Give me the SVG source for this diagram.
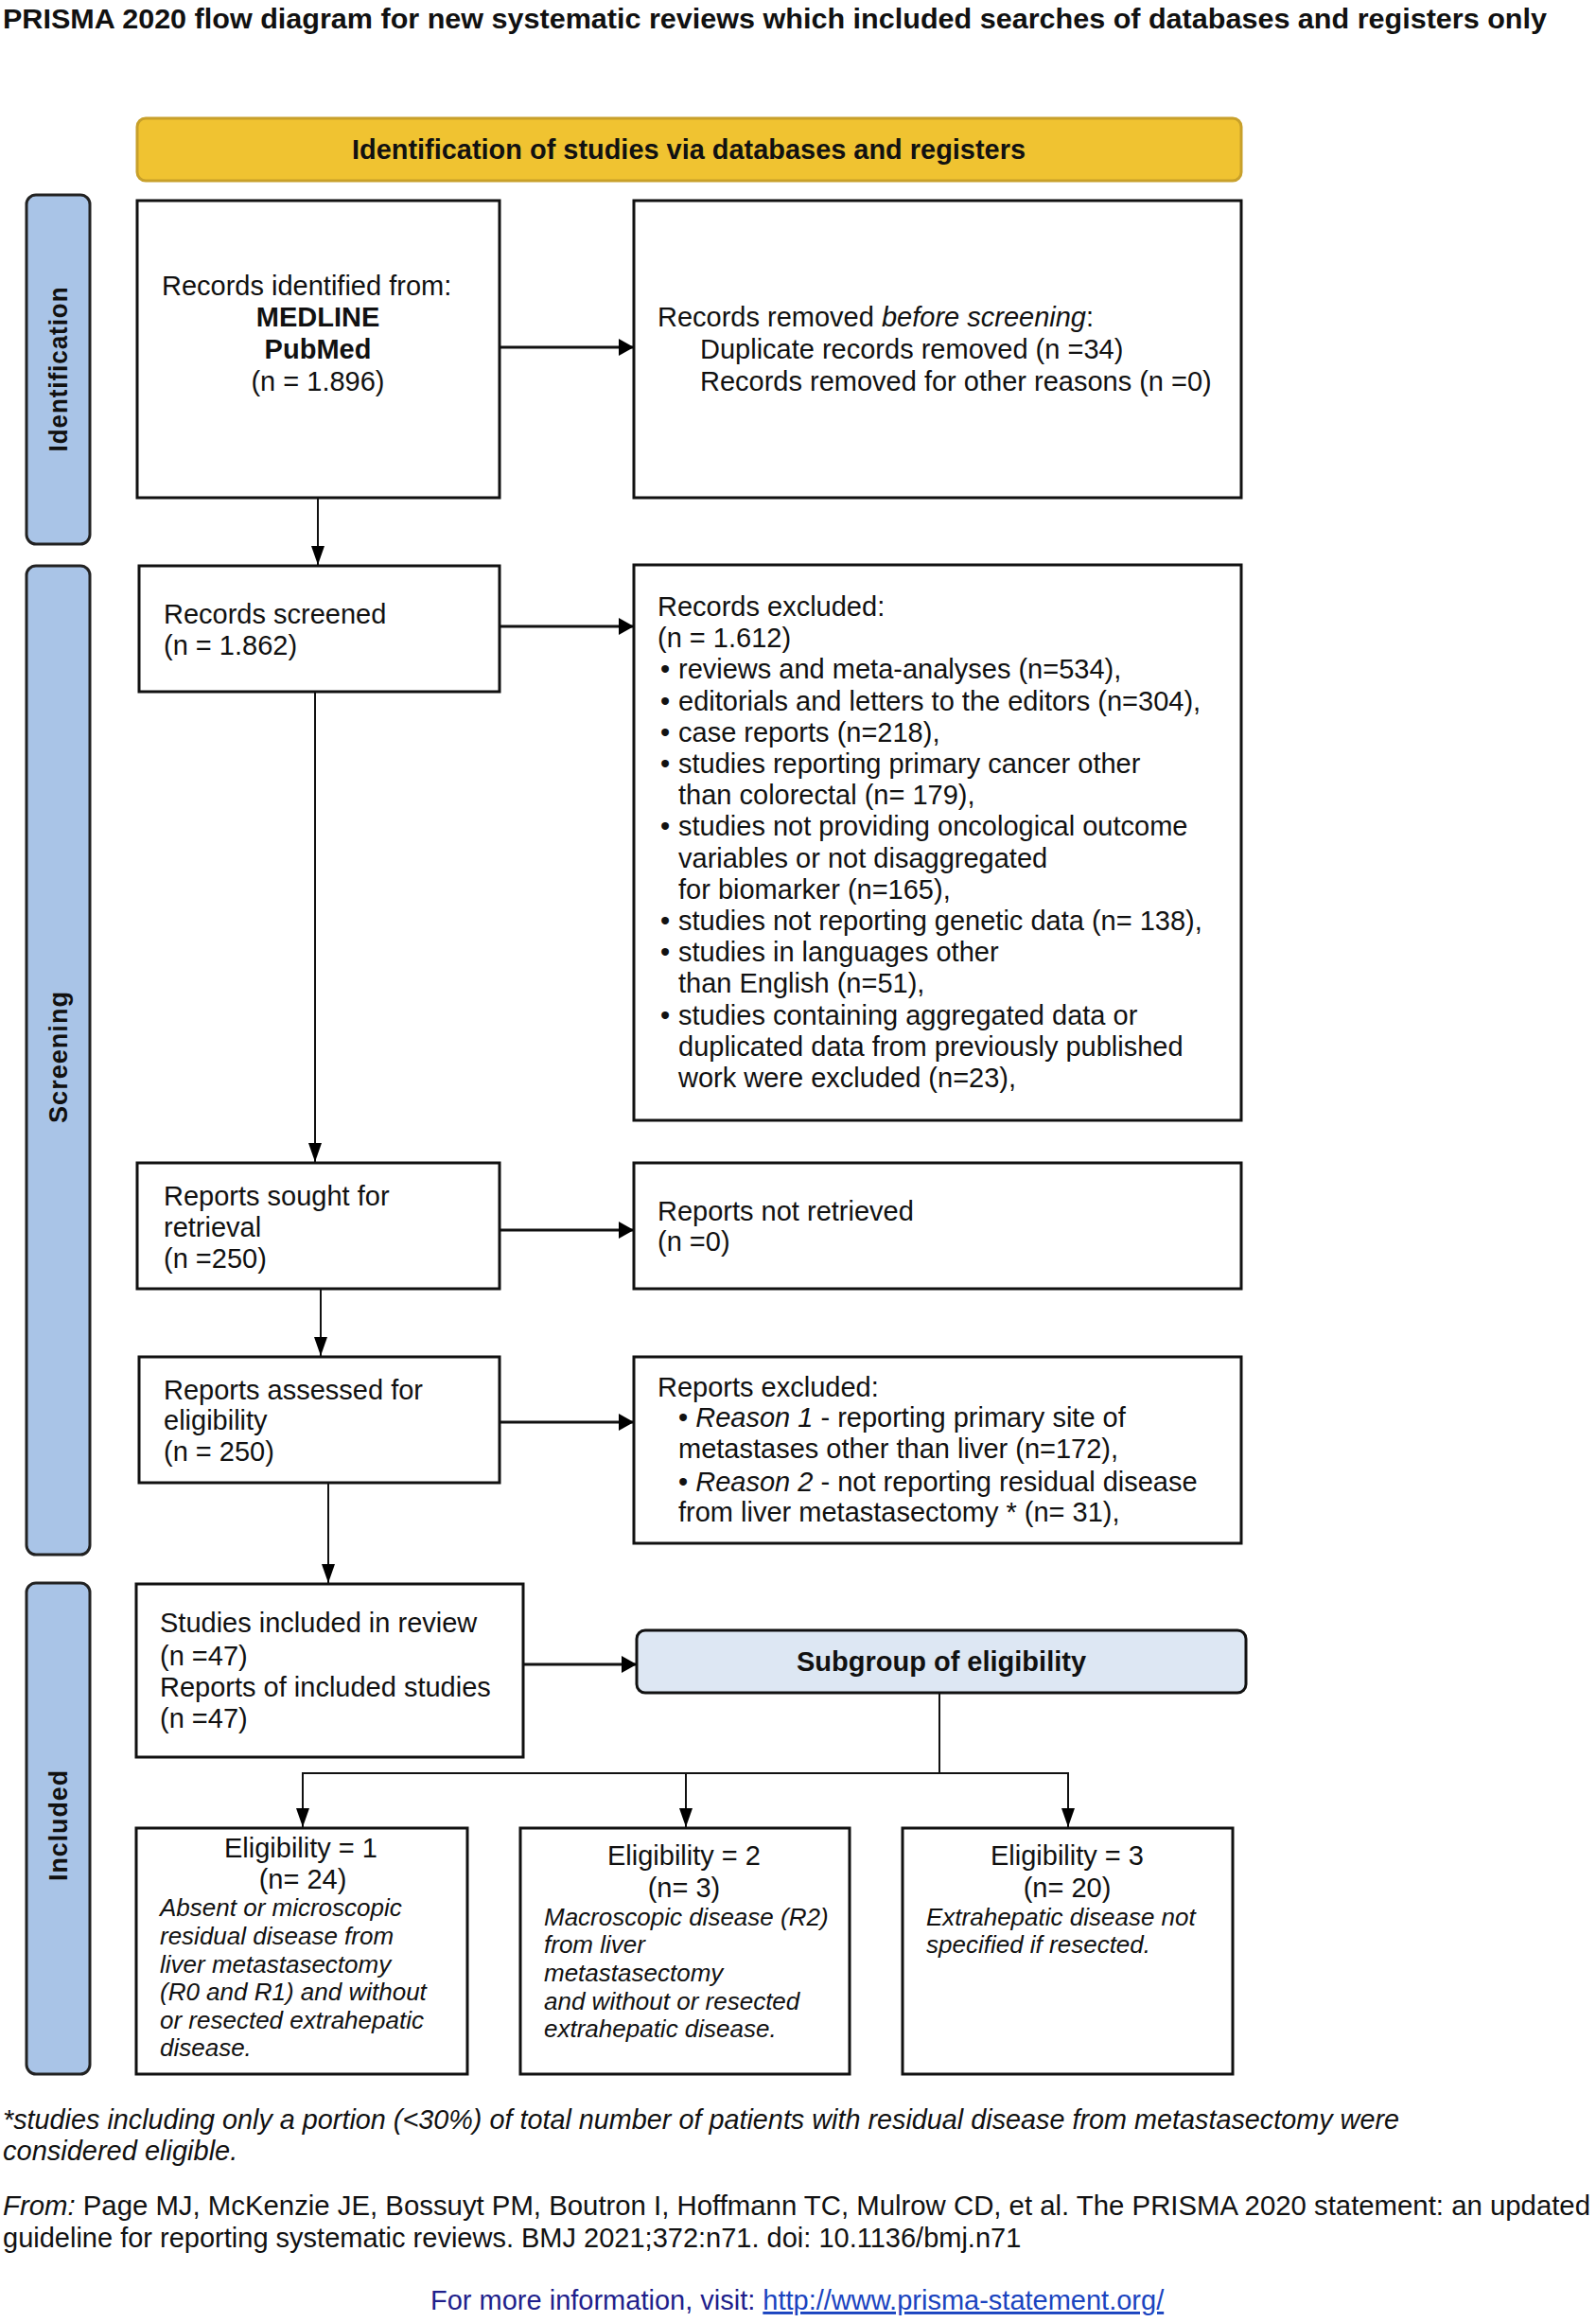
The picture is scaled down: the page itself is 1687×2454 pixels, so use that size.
<svg xmlns="http://www.w3.org/2000/svg" width="1687" height="2454" viewBox="0 0 1687 2454">
<defs>
<marker id="ah" viewBox="0 0 16 18" refX="16" refY="9" markerWidth="16" markerHeight="18" markerUnits="userSpaceOnUse" orient="auto">
<path d="M0,0 L16,9 L0,18 z" fill="#000"/>
</marker>
<marker id="av" viewBox="0 0 20 14" refX="20" refY="7" markerWidth="20" markerHeight="14" markerUnits="userSpaceOnUse" orient="auto">
<path d="M0,0 L20,7 L0,14 z" fill="#000"/>
</marker>
</defs>
<style>
text{font-family:"Liberation Sans",Arial,sans-serif;font-size:29px;fill:#111}
.box{fill:#fff;stroke:#111;stroke-width:3}
.side{fill:#a9c4e7;stroke:#222;stroke-width:3}
.sidet{font-weight:bold;font-size:27px;letter-spacing:1px}
.it{font-style:italic}
.sm{font-size:26px;font-style:italic}
.b{font-weight:bold}
.c{text-anchor:middle}
.conn{stroke:#111;fill:none}
.h{stroke-width:3}
.v{stroke-width:2}
</style>
<rect width="1687" height="2454" fill="#fff"/>
<text x="3" y="30" class="b" font-size="29" textLength="1632" lengthAdjust="spacingAndGlyphs">PRISMA 2020 flow diagram for new systematic reviews which included searches of databases and registers only</text>

<g id="header">
<rect x="145" y="125" width="1167" height="66" rx="9" fill="#f0c331" stroke="#c8a02a" stroke-width="3"/>
<text x="728" y="168" class="b c" font-size="28" textLength="712" lengthAdjust="spacingAndGlyphs">Identification of studies via databases and registers</text>
</g>

<g id="bar-identification">
<rect x="28" y="206" width="67" height="369" rx="10" class="side"/>
<text transform="translate(71,390) rotate(-90)" class="sidet c" textLength="175" lengthAdjust="spacingAndGlyphs">Identification</text>
</g>
<g id="bar-screening">
<rect x="28" y="598" width="67" height="1045" rx="10" class="side"/>
<text transform="translate(71,1117) rotate(-90)" class="sidet c" textLength="140" lengthAdjust="spacingAndGlyphs">Screening</text>
</g>
<g id="bar-included">
<rect x="28" y="1673" width="67" height="519" rx="10" class="side"/>
<text transform="translate(71,1929) rotate(-90)" class="sidet c" textLength="118" lengthAdjust="spacingAndGlyphs">Included</text>
</g>

<g id="records-identified">
<rect x="145" y="212" width="383" height="314" class="box"/>
<text x="171" y="312">Records identified from:</text>
<text x="336" y="345" class="b c">MEDLINE</text>
<text x="336" y="379" class="b c">PubMed</text>
<text x="336" y="413" class="c">(n = 1.896)</text>
</g>

<g id="records-removed">
<rect x="670" y="212" width="642" height="314" class="box"/>
<text x="695" y="345">Records removed <tspan class="it">before screening</tspan>:</text>
<text x="740" y="379">Duplicate records removed (n =34)</text>
<text x="740" y="413">Records removed for other reasons (n =0)</text>
</g>

<g id="records-screened">
<rect x="147" y="598" width="381" height="133" class="box"/>
<text x="173" y="659">Records screened</text>
<text x="173" y="692">(n = 1.862)</text>
</g>

<g id="records-excluded">
<rect x="670" y="597" width="642" height="587" class="box"/>
<text x="695" y="651">Records excluded:</text>
<text x="695" y="684">(n = 1.612)</text>
<text x="698" y="717">•</text><text x="717" y="717">reviews and meta-analyses (n=534),</text>
<text x="698" y="751">•</text><text x="717" y="751">editorials and letters to the editors (n=304),</text>
<text x="698" y="784">•</text><text x="717" y="784">case reports (n=218),</text>
<text x="698" y="817">•</text><text x="717" y="817">studies reporting primary cancer other</text>
<text x="717" y="850">than colorectal (n= 179),</text>
<text x="698" y="883">•</text><text x="717" y="883">studies not providing oncological outcome</text>
<text x="717" y="917">variables or not disaggregated</text>
<text x="717" y="950">for biomarker (n=165),</text>
<text x="698" y="983">•</text><text x="717" y="983">studies not reporting genetic data (n= 138),</text>
<text x="698" y="1016">•</text><text x="717" y="1016">studies in languages other</text>
<text x="717" y="1049">than English (n=51),</text>
<text x="698" y="1083">•</text><text x="717" y="1083">studies containing aggregated data or</text>
<text x="717" y="1116">duplicated data from previously published</text>
<text x="717" y="1149">work were excluded (n=23),</text>
</g>

<g id="reports-sought">
<rect x="145" y="1229" width="383" height="133" class="box"/>
<text x="173" y="1274">Reports sought for</text>
<text x="173" y="1307">retrieval</text>
<text x="173" y="1340">(n =250)</text>
</g>

<g id="reports-not-retrieved">
<rect x="670" y="1229" width="642" height="133" class="box"/>
<text x="695" y="1290">Reports not retrieved</text>
<text x="695" y="1322">(n =0)</text>
</g>

<g id="reports-assessed">
<rect x="147" y="1434" width="381" height="133" class="box"/>
<text x="173" y="1479">Reports assessed for</text>
<text x="173" y="1511">eligibility</text>
<text x="173" y="1544">(n = 250)</text>
</g>

<g id="reports-excluded">
<rect x="670" y="1434" width="642" height="197" class="box"/>
<text x="695" y="1476">Reports excluded:</text>
<text x="717" y="1508">• <tspan class="it">Reason 1</tspan> - reporting primary site of</text>
<text x="717" y="1541">metastases other than liver (n=172),</text>
<text x="717" y="1576">• <tspan class="it">Reason 2</tspan> - not reporting residual disease</text>
<text x="717" y="1608">from liver metastasectomy * (n= 31),</text>
</g>

<g id="studies-included">
<rect x="144" y="1674" width="409" height="183" class="box"/>
<text x="169" y="1725">Studies included in review</text>
<text x="169" y="1760">(n =47)</text>
<text x="169" y="1793">Reports of included studies</text>
<text x="169" y="1826">(n =47)</text>
</g>

<g id="subgroup">
<rect x="673" y="1723" width="644" height="66" rx="9" fill="#dde7f3" stroke="#111" stroke-width="3"/>
<text x="995" y="1766" class="b c">Subgroup of eligibility</text>
</g>

<g id="eligibility-1">
<rect x="144" y="1932" width="350" height="260" class="box"/>
<text x="318" y="1963" class="c">Eligibility = 1</text>
<text x="320" y="1996" class="c">(n= 24)</text>
<text x="169" y="2025" class="sm">Absent or microscopic</text>
<text x="169" y="2055" class="sm">residual disease from</text>
<text x="169" y="2085" class="sm">liver metastasectomy</text>
<text x="169" y="2114" class="sm">(R0 and R1) and without</text>
<text x="169" y="2144" class="sm">or resected extrahepatic</text>
<text x="169" y="2173" class="sm">disease.</text>
</g>

<g id="eligibility-2">
<rect x="550" y="1932" width="348" height="260" class="box"/>
<text x="723" y="1971" class="c">Eligibility = 2</text>
<text x="723" y="2005" class="c">(n= 3)</text>
<text x="575" y="2035" class="sm">Macroscopic disease (R2)</text>
<text x="575" y="2064" class="sm">from liver</text>
<text x="575" y="2094" class="sm">metastasectomy</text>
<text x="575" y="2124" class="sm">and without or resected</text>
<text x="575" y="2153" class="sm">extrahepatic disease.</text>
</g>

<g id="eligibility-3">
<rect x="954" y="1932" width="349" height="260" class="box"/>
<text x="1128" y="1971" class="c">Eligibility = 3</text>
<text x="1128" y="2005" class="c">(n= 20)</text>
<text x="979" y="2035" class="sm">Extrahepatic disease not</text>
<text x="979" y="2064" class="sm">specified if resected.</text>
</g>

<g id="connectors">
<line x1="528" y1="367" x2="670" y2="367" class="conn h" marker-end="url(#ah)"/>
<line x1="336" y1="526" x2="336" y2="597" class="conn v" marker-end="url(#av)"/>
<line x1="528" y1="662" x2="670" y2="662" class="conn h" marker-end="url(#ah)"/>
<line x1="333" y1="731" x2="333" y2="1228" class="conn v" marker-end="url(#av)"/>
<line x1="528" y1="1300" x2="670" y2="1300" class="conn h" marker-end="url(#ah)"/>
<line x1="339" y1="1362" x2="339" y2="1433" class="conn v" marker-end="url(#av)"/>
<line x1="528" y1="1503" x2="670" y2="1503" class="conn h" marker-end="url(#ah)"/>
<line x1="347" y1="1567" x2="347" y2="1673" class="conn v" marker-end="url(#av)"/>
<line x1="553" y1="1759" x2="673" y2="1759" class="conn h" marker-end="url(#ah)"/>
<line x1="993" y1="1789" x2="993" y2="1874" class="conn v"/>
<line x1="319" y1="1874" x2="1130" y2="1874" class="conn v"/>
<line x1="320" y1="1874" x2="320" y2="1931" class="conn v" marker-end="url(#av)"/>
<line x1="725" y1="1874" x2="725" y2="1931" class="conn v" marker-end="url(#av)"/>
<line x1="1129" y1="1874" x2="1129" y2="1931" class="conn v" marker-end="url(#av)"/>
</g>

<g id="footer">
<text x="3" y="2250" class="it" textLength="1476" lengthAdjust="spacingAndGlyphs">*studies including only a portion (&lt;30%) of total number of patients with residual disease from metastasectomy were</text>
<text x="3" y="2283" class="it">considered eligible.</text>
<text x="3" y="2341" textLength="1678" lengthAdjust="spacingAndGlyphs"><tspan class="it">From:</tspan>  Page MJ, McKenzie JE, Bossuyt PM, Boutron I, Hoffmann TC, Mulrow CD, et al. The PRISMA 2020 statement: an updated</text>
<text x="3" y="2375">guideline for reporting systematic reviews. BMJ 2021;372:n71. doi: 10.1136/bmj.n71</text>
<text x="455" y="2441" style="fill:#1f1f8c">For more information, visit: <tspan style="fill:#1a44c0;text-decoration:underline">http://www.prisma-statement.org/</tspan></text>
</g>
</svg>
